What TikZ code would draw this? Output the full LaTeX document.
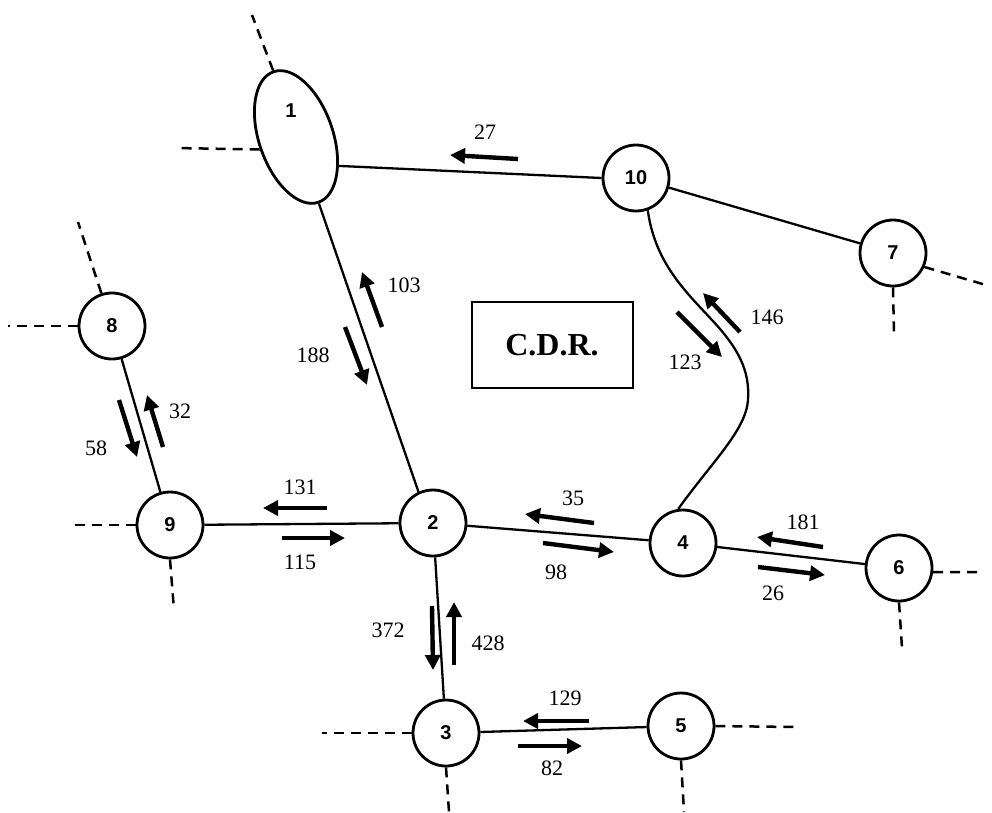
\documentclass[tikz,border=0pt]{standalone}
\usepackage{fontspec}
\setmainfont{Liberation Serif}
\newfontfamily\nodefont{Liberation Sans}
\usetikzlibrary{shapes.geometric,arrows.meta}
\tikzset{
  junction/.style={circle,draw,line width=2.8pt,minimum size=66pt,inner sep=0pt,
    font=\nodefont\fontsize{20}{23}\selectfont\bfseries},
  link/.style={line width=2.3pt},
  stub/.style={line width=2.5pt,dash pattern=on 10pt off 7pt},
  flow/.style={line width=4.4pt,-{Triangle[length=15pt,width=15pt]}},
  val/.style={inner sep=0pt,font=\fontsize{22}{26}\selectfont},
}
\begin{document}
\begin{tikzpicture}[x=1pt,y=-1pt]
\useasboundingbox (0,0) rectangle (992,812);
% nodes
\node[ellipse,draw,line width=2.8pt,minimum width=74pt,minimum height=138pt,inner sep=0pt,rotate=19] (n1) at (296,137) {};
\node[inner sep=0pt,font=\nodefont\fontsize{20}{23}\selectfont\bfseries] (l1) at (291,111) {1};
\node[junction] (n10) at (636,178) {10};
\node[junction] (n7) at (893,253) {7};
\node[junction] (n8) at (112,326) {8};
\node[junction] (n9) at (170,525) {9};
\node[junction] (n2) at (433,523) {2};
\node[junction] (n4) at (683,543) {4};
\node[junction] (n6) at (899,568) {6};
\node[junction] (n3) at (446,733) {3};
\node[junction] (n5) at (681,726) {5};
\node[draw,line width=2pt,minimum width=161pt,minimum height=86pt,inner sep=0pt,
  font=\fontsize{32}{36}\selectfont\bfseries] (cdr) at (552,345) {C.D.R.};
% connectors
\draw[link] (n1.-53) -- (n10.180);
\draw[link] (n10) -- (n7);
\draw[link] (n1.south) -- (n2.115);
\draw[link] (n10.-70) .. controls (655,262) and (684,290) .. (712,320)
  .. controls (738,348) and (750,370) .. (748,400)
  .. controls (746,430) and (712,462) .. (n4.98);
\draw[link] (n8) -- (n9);
\draw[link] (n9) -- (n2);
\draw[link] (n2) -- (n4);
\draw[link] (n4) -- (n6);
\draw[link] (n2) -- (n3);
\draw[link] (n3) -- (n5);
% stubs
\coordinate (s1a) at (252,15);
\coordinate (s1b) at (175,148);
\coordinate (s7a) at (986,285);
\coordinate (s7b) at (894,335);
\coordinate (s8a) at (78,222);
\coordinate (s8b) at (8,326);
\coordinate (s9a) at (70,525);
\coordinate (s9b) at (174,610);
\coordinate (s6a) at (984,572);
\coordinate (s6b) at (902,648);
\coordinate (s3a) at (322,733);
\coordinate (s3b) at (449,812);
\coordinate (s5a) at (795,727);
\coordinate (s5b) at (684,812);
\draw[stub] (n1.north) -- (s1a);
\draw[stub] (n1.west) -- (s1b);
\draw[stub] (n7.-24) -- (s7a);
\draw[stub] (n7.south) -- (s7b);
\draw[stub] (n8.108) -- (s8a);
\draw[stub] (n8.west) -- (s8b);
\draw[stub] (n9.west) -- (s9a);
\draw[stub] (n9.south) -- (s9b);
\draw[stub] (n6.-7) -- (s6a);
\draw[stub] (n6.south) -- (s6b);
\draw[stub] (n3.west) -- (s3a);
\draw[stub] (n3.south) -- (s3b);
\draw[stub] (n5.east) -- (s5a);
\draw[stub] (n5.south) -- (s5b);
% flow arrows and values
\draw[flow] (518,159) -- (450,155);
\node[val] (v27) at (485,132) {27};
\draw[flow] (382,327) -- (362,272);
\node[val] (v103) at (404,285) {103};
\draw[flow] (345,327) -- (367,385);
\node[val] (v188) at (313,355) {188};
\draw[flow] (740,332) -- (703,293);
\node[val] (v146) at (767,317) {146};
\draw[flow] (677,312) -- (722,357);
\node[val] (v123) at (685,362) {123};
\draw[flow] (163,447) -- (147,395);
\node[val] (v32) at (180,411) {32};
\draw[flow] (119,400) -- (137,457);
\node[val] (v58) at (96,448) {58};
\draw[flow] (327,508) -- (263,508);
\node[val] (v131) at (300,487) {131};
\draw[flow] (282,538) -- (345,538);
\node[val] (v115) at (300,562) {115};
\draw[flow] (594,523) -- (525,514);
\node[val] (v35) at (573,498) {35};
\draw[flow] (543,543) -- (614,552);
\node[val] (v98) at (556,572) {98};
\draw[flow] (823,547) -- (757,537);
\node[val] (v181) at (803,522) {181};
\draw[flow] (758,567) -- (825,575);
\node[val] (v26) at (773,593) {26};
\draw[flow] (432,606) -- (433,670);
\node[val] (v372) at (388,630) {372};
\draw[flow] (454,665) -- (454,602);
\node[val] (v428) at (488,643) {428};
\draw[flow] (589,721) -- (523,721);
\node[val] (v129) at (565,698) {129};
\draw[flow] (518,746) -- (582,746);
\node[val] (v82) at (552,768) {82};
\end{tikzpicture}
\end{document}
